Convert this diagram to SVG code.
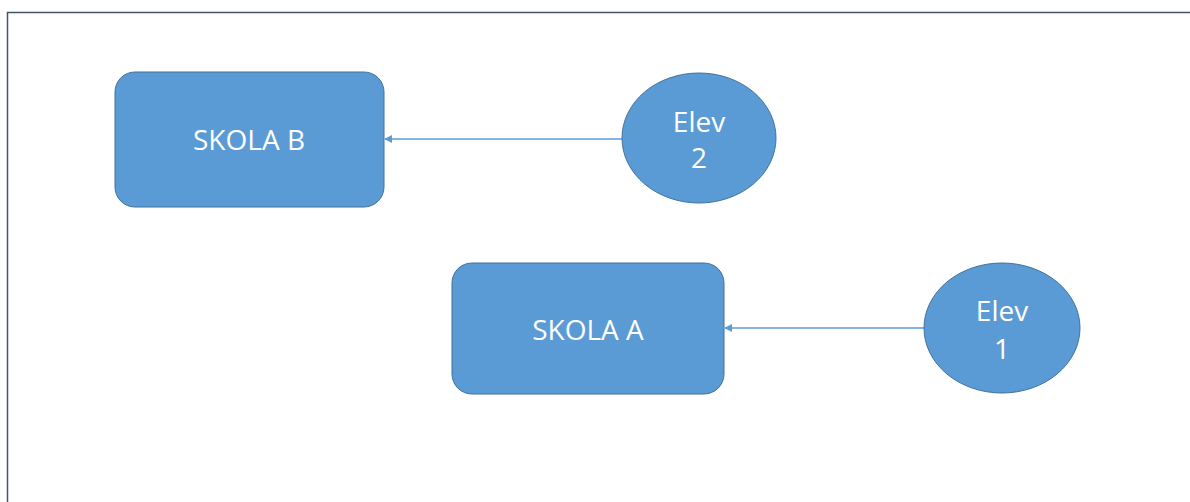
<svg xmlns="http://www.w3.org/2000/svg" width="1190" height="502" viewBox="0 0 1190 502">
<defs>
<style>
.box{fill:#5B9BD5;stroke:#41719C;stroke-width:1}
.lbl{fill:#ffffff;font-family:"Open Sans","Noto Sans",sans-serif;font-size:28px;text-anchor:middle}
.conn{stroke:#5B9BD5;stroke-width:1.3;fill:none}
</style>
<marker id="arr" viewBox="0 0 10 10" refX="9" refY="5" markerWidth="8" markerHeight="8" markerUnits="userSpaceOnUse" orient="auto">
<path d="M0,0 L10,5 L0,10 z" fill="#5B9BD5"/>
</marker>
</defs>
<rect x="0" y="0" width="1190" height="502" fill="#ffffff"/>
<path d="M7.5,502 V12.5 H1190" fill="none" stroke="#44546A" stroke-width="1.5"/>
<g id="connectors">
<line class="conn" x1="622" y1="139" x2="385" y2="139" marker-end="url(#arr)"/>
<line class="conn" x1="924" y1="328" x2="725" y2="328" marker-end="url(#arr)"/>
</g>
<g id="skolaB">
<rect class="box" x="115" y="72" width="269" height="135" rx="20"/>
<text class="lbl" x="249" y="150">SKOLA B</text>
</g>
<g id="skolaA">
<rect class="box" x="452" y="263" width="272" height="131" rx="20"/>
<text class="lbl" x="588" y="340">SKOLA A</text>
</g>
<g id="elev2">
<ellipse class="box" cx="699" cy="138" rx="77" ry="65"/>
<text class="lbl" x="699" y="132">Elev</text>
<text class="lbl" x="699" y="168">2</text>
</g>
<g id="elev1">
<ellipse class="box" cx="1002" cy="328" rx="78" ry="65"/>
<text class="lbl" x="1002" y="321">Elev</text>
<text class="lbl" x="1002" y="359">1</text>
</g>
</svg>
